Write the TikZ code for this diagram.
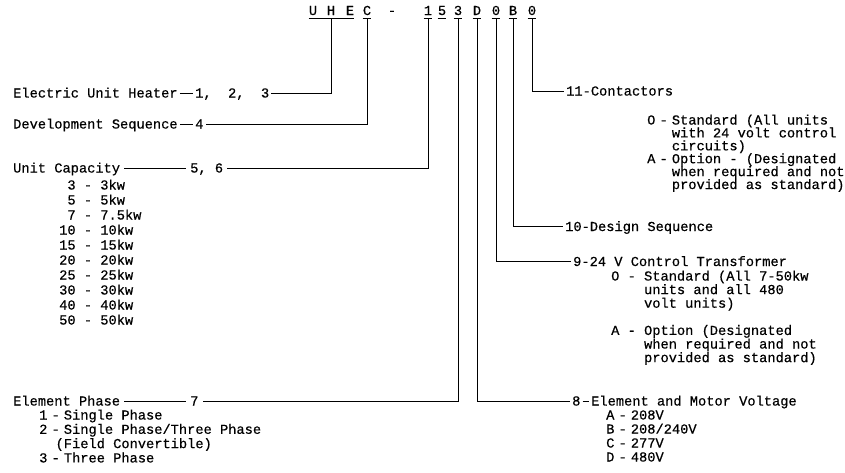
\documentclass[tikz,border=0pt]{standalone}
\usepackage{fontspec}
\setmonofont{Liberation Mono}[FakeBold=0.5]
\newcommand{\mfont}{\ttfamily\fontsize{13.7}{14}\selectfont}
\newcommand{\dd}{\hspace{0.3em}-\hspace{0.3em}}
\newcommand{\ind}{\hspace{1.8em}}
\tikzset{
  txt/.style={font=\mfont, inner xsep=2pt, inner ysep=0pt, text height=9pt, text depth=0pt, anchor=base west},
  hd/.style={font=\mfont, inner sep=0pt, text height=9pt, text depth=3.5pt, anchor=base},
  conn/.style={draw=black, line width=0.9pt},
  uline/.style={draw=black, line width=0.8pt},
}
\begin{document}
\begin{tikzpicture}[x=1pt,y=-1pt]
\useasboundingbox (0,0) rectangle (845,472);
% header code
\node[hd] (hU) at (313,15) {U};
\node[hd] (hH) at (331,15) {H};
\node[hd] (hE) at (350,15) {E};
\node[hd] (hC) at (367,15) {C};
\node[hd] (hdash) at (392,15) {-};
\node[hd] (h1) at (428,15) {1};
\node[hd] (h5) at (442,15) {5};
\node[hd] (h3) at (458,15) {3};
\node[hd] (hD) at (477,15) {D};
\node[hd] (h0a) at (496,15) {0};
\node[hd] (hB) at (513,15) {B};
\node[hd] (h0b) at (532,15) {0};
\draw[uline] (hU.south west) -- (hE.south east);
\foreach \n in {hC,h1,h5,h3,hD,h0a,hB,h0b}
  \draw[uline] (\n.south west) -- (\n.south east);

% left labels
\node[txt] (r1a) at (11,97.5) {Electric Unit Heater};
\node[txt] (r1b) at (193,97.5) {1,\ \ 2,\ \ 3};
\node[txt] (r2a) at (11,128.5) {Development Sequence};
\node[txt] (r2b) at (193,128.5) {4};
\node[txt, inner xsep=4pt] (r3a) at (9,172.5) {Unit Capacity};
\node[txt, inner xsep=4pt] (r3b) at (186,172.5) {5, 6};
\node[txt, inner xsep=4pt] (r4a) at (9,405.5) {Element Phase};
\node[txt, inner xsep=4pt] (r4b) at (186,405.5) {7};

\foreach \t [count=\i] in {{\phantom{1}3 - 3kw},{\phantom{1}5 - 5kw},{\phantom{1}7 - 7.5kw},{10 - 10kw},{15 - 15kw},{20 - 20kw},{25 - 25kw},{30 - 30kw},{40 - 40kw},{50 - 50kw}}
  \node[txt] (cap\i) at ({57},{189.5+15*(\i-1)}) {\t};

\foreach \t [count=\i] in {{1\dd Single Phase},{2\dd Single Phase/Three Phase},{\hspace{1.2em}(Field Convertible)},{3\dd Three Phase}}
  \node[txt] (ph\i) at ({37},{419.5+14.3*(\i-1)}) {\t};

% right labels
\node[txt] (r11) at (564,95.5) {11-Contactors};
\node[txt] (r10) at (563,231) {10-Design Sequence};
\node[txt] (r9) at (571,266) {9-24 V Control Transformer};
\node[txt] (r8) at (570,405.5) {8};
\node[txt] (r8b) at (589,405.5) {Element and Motor Voltage};

\foreach \t [count=\i] in {{O\dd Standard (All units},{\ind with 24 volt control},{\ind circuits)},{A\dd Option - (Designated},{\ind when required and not},{\ind provided as standard)}}
  \node[txt] (ct\i) at ({645},{124.5+12.9*(\i-1)}) {\t};

\foreach \t [count=\i] in {{O - Standard (All 7-50kw},{\phantom{O - }units and all 480},{\phantom{O - }volt units)},{},{A - Option (Designated},{\phantom{A - }when required and not},{\phantom{A - }provided as standard)}}
  \node[txt] (tr\i) at ({609},{280.5+13.6*(\i-1)}) {\t};

\foreach \t [count=\i] in {{A\dd 208V},{B\dd 208/240V},{C\dd 277V},{D\dd 480V}}
  \node[txt] (vt\i) at ({604},{419.5+14*(\i-1)}) {\t};

% connectors
\draw[conn] (r1a.east) -- (r1b.west);
\draw[conn] (r2a.east) -- (r2b.west);
\draw[conn] (r3a.east) -- (r3b.west);
\draw[conn] (r4a.east) -- (r4b.west);
\draw[conn] (r8.east) -- (r8b.west);
\draw[conn] (hH.south) |- (r1b.east);
\draw[conn] (hC.south) |- (r2b.east);
\draw[conn] (h1.south) |- (r3b.east);
\draw[conn] (h3.south) |- (r4b.east);
\draw[conn] (hD.south) |- (r8.west);
\draw[conn] (h0a.south) |- (r9.west);
\draw[conn] (hB.south) |- (r10.west);
\draw[conn] (h0b.south) |- (r11.west);
\end{tikzpicture}
\end{document}
